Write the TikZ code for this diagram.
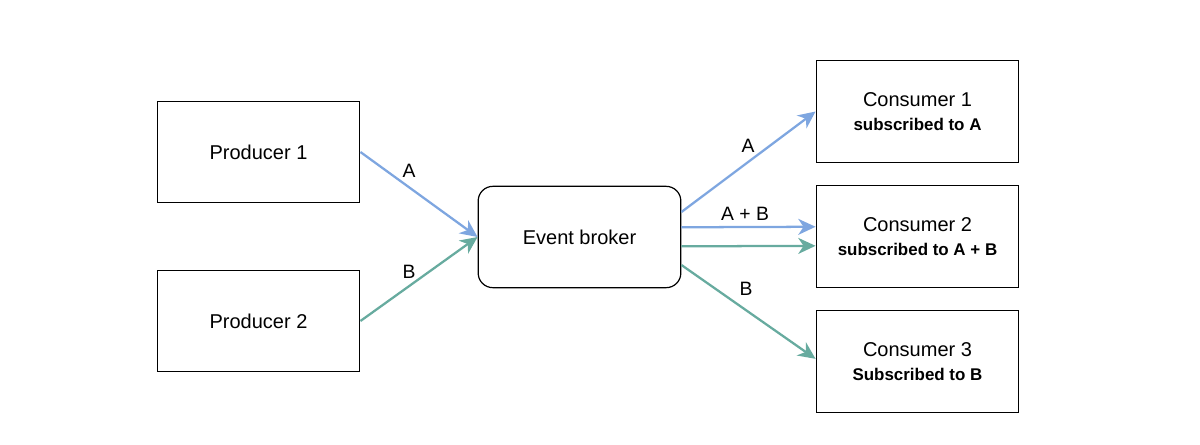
\documentclass[tikz,border=0pt]{standalone}
\usepackage{fontspec}
\setmainfont{Liberation Sans}
\definecolor{arrowblue}{RGB}{126,166,224}
\definecolor{arrowgreen}{RGB}{103,171,159}
\usetikzlibrary{arrows.meta,positioning}

\begin{document}
\begin{tikzpicture}[x=0.75pt,y=0.75pt,yscale=-1,xscale=1,
	box/.style={draw=black,line width=0.9pt,minimum width=152pt,minimum height=76pt,inner sep=0pt,align=center,font=\fontsize{15}{19}\selectfont},
	broker/.style={box,rounded corners=11pt},
	flow/.style={line width=1.7pt,-{Stealth[length=13pt,width=12pt,inset=4pt]}},
	lbl/.style={inner sep=0pt,font=\fontsize{14.5}{17}\selectfont}]
	%set diagram size to the reference
	\useasboundingbox (0,0) rectangle (1200,444);

	% Producers
	\node [box] (prod1) at (258.5,152) {Producer 1};
	\node [box] (prod2) at (258.5,321) {Producer 2};
	% Broker
	\node [broker] (evbroker) at (579.5,237) {Event broker};
	% Consumers
	\node [box] (cons1) at (917.5,111.5) {Consumer 1\\[-1pt]{\fontsize{12.7}{15}\selectfont\bfseries subscribed to A}};
	\node [box] (cons2) at (917.5,236.5) {Consumer 2\\[-1pt]{\fontsize{12.7}{15}\selectfont\bfseries subscribed to A + B}};
	\node [box] (cons3) at (917.5,361.5) {Consumer 3\\[-1pt]{\fontsize{12.7}{15}\selectfont\bfseries Subscribed to B}};

	% Incoming events
	\draw [flow,arrowblue] (prod1.east) -- (evbroker.west);
	\draw [flow,arrowgreen] (prod2.east) -- (evbroker.west);
	% Outgoing events (yshift is flipped by yscale=-1)
	\draw [flow,arrowblue] ([yshift=-18.75pt]evbroker.east) -- (cons1.west);
	\draw [flow,arrowblue] ([yshift=-7.3pt]evbroker.east) -- ([yshift=-7.3pt]cons2.west);
	\draw [flow,arrowgreen] ([yshift=7pt]evbroker.east) -- ([yshift=7pt]cons2.west);
	\draw [flow,arrowgreen] ([yshift=21pt]evbroker.east) -- ([yshift=-2pt]cons3.west);

	% Text Node
	\node [lbl] (lblA1) at (409,171) {A};
	% Text Node
	\node [lbl] (lblB1) at (409,272) {B};
	% Text Node
	\node [lbl] (lblA2) at (748,146) {A};
	% Text Node
	\node [lbl] (lblAB) at (745,214) {A + B};
	% Text Node
	\node [lbl] (lblB2) at (746,289) {B};
\end{tikzpicture}
\end{document}
